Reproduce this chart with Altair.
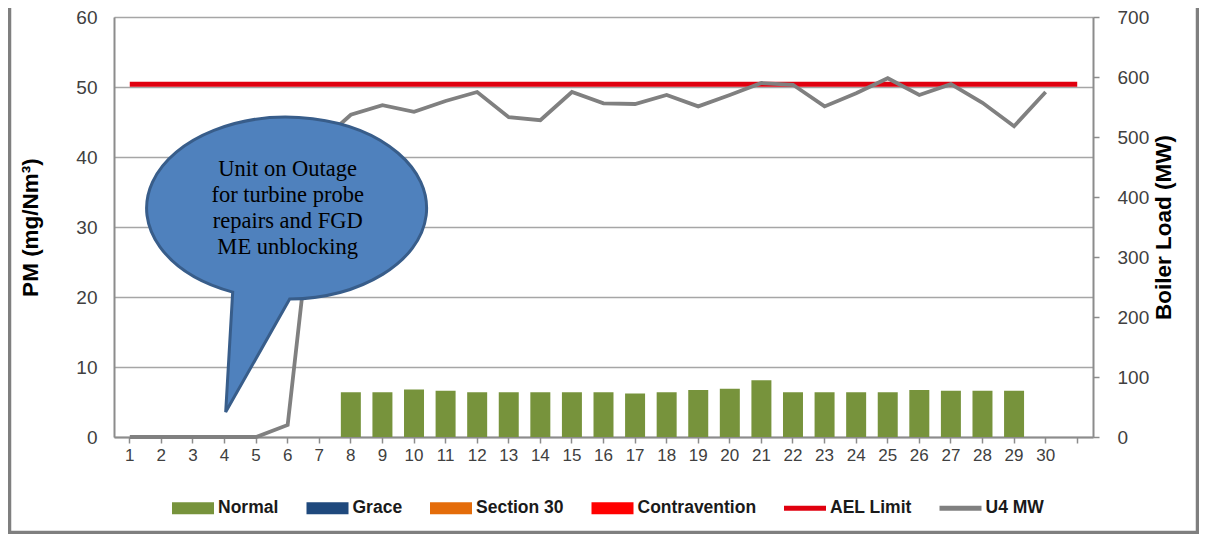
import altair as alt
import pandas as pd

# ---------------- data ----------------
days = list(range(1, 32))            # 31 category slots, last one is blank
day_labels_max = 30

pm_days = list(range(8, 30))
pm_values = [6.4, 6.4, 6.8, 6.6, 6.4, 6.4, 6.4, 6.4, 6.4, 6.2, 6.4,
             6.7, 6.9, 8.1, 6.4, 6.4, 6.4, 6.4, 6.7, 6.6, 6.6, 6.6]

mw_days = list(range(1, 31))
mw_values = [0, 0, 0, 0, 0, 20, 490, 537, 553, 542, 560, 575, 533, 528, 575,
             556, 555, 570, 551, 570, 590, 587, 551, 573, 598, 570, 588, 557, 518, 575]

ael_days = list(range(1, 32))
ael_value = 50.4

legend_names = ["Normal", "Grace", "Section 30", "Contravention", "AEL Limit", "U4 MW"]
legend_colors = ["#77933C", "#1F497D", "#E46C0A", "#FF0000", "#E0000F", "#808080"]

annot_day = 6
annot_pm = 32.7
annot_text = "Unit on Outage\nfor turbine probe\nrepairs and FGD\nME unblocking"

# ---------------- frames ----------------
bars_df = pd.DataFrame({"day": pm_days, "pm": pm_values})
mw_df = pd.DataFrame({"day": mw_days, "mw": mw_values})
ael_df = pd.DataFrame({"day": ael_days, "ael": [ael_value] * len(ael_days)})
annot_df = pd.DataFrame({"day": [annot_day], "pm": [annot_pm], "txt": [annot_text]})
legend_df = pd.DataFrame({"day": [1] * len(legend_names), "series": legend_names,
                          "v": [None] * len(legend_names)})
frame_df = pd.DataFrame({"k": [0]})

SANS = "Liberation Sans, Arial, sans-serif"
GRID = "#A6A6A6"
TXT = "#404040"

xscale = alt.Scale(type="band", domain=days, paddingInner=0.367, paddingOuter=0.183)
xaxis = alt.Axis(title=None, labelExpr=f"datum.value <= {day_labels_max} ? datum.label : ''",
                 labelAngle=0, labelFont=SANS, labelFontSize=17, labelColor=TXT,
                 domainColor="#8C8C8C", domainWidth=2, tickColor="#8C8C8C", tickWidth=1.5,
                 tickSize=6, labelPadding=4, grid=False)
X = alt.X("day:O", scale=xscale, axis=xaxis)

pm_scale = alt.Scale(domain=[0, 60], nice=False)

bars = alt.Chart(bars_df).mark_bar(color="#77933C").encode(
    x=X,
    y=alt.Y("pm:Q", scale=pm_scale,
            axis=alt.Axis(title="PM (mg/Nm³)", values=[0, 10, 20, 30, 40, 50, 60],
                          grid=True, gridColor=GRID, gridWidth=1.5,
                          ticks=False, tickSize=0, labelPadding=17,
                          labelFont=SANS, labelFontSize=19, labelColor=TXT,
                          domainColor="#8C8C8C", domainWidth=2,
                          titleFont=SANS, titleFontSize=22.5, titleFontWeight="bold",
                          titleColor="#000000", titleAngle=270, titleBaseline="middle",
                          titleX=-84, titleY=210)),
)

ael = alt.Chart(ael_df).mark_line(color="#E0000F", strokeWidth=5).encode(
    x=X,
    y=alt.Y("ael:Q", scale=pm_scale, axis=None),
)

mw = alt.Chart(mw_df).mark_line(color="#808080", strokeWidth=3.8).encode(
    x=X,
    y=alt.Y("mw:Q", scale=alt.Scale(domain=[0, 700], nice=False),
            axis=alt.Axis(orient="right", title="Boiler Load (MW)",
                          values=[0, 100, 200, 300, 400, 500, 600, 700], grid=False,
                          ticks=True, tickSize=6, tickColor="#8C8C8C", tickWidth=1.5,
                          labelPadding=18, labelFont=SANS, labelFontSize=19, labelColor=TXT,
                          domainColor="#8C8C8C", domainWidth=2,
                          titleFont=SANS, titleFontSize=22.5, titleFontWeight="bold",
                          titleColor="#000000", titleAngle=270, titleBaseline="middle",
                          titleX=70, titleY=210)),
)

bubble_path = "M2,91 A140,91 0 1 0 -55,84 L-62,204 Z"
bubble = alt.Chart(annot_df).mark_point(
    shape=bubble_path, size=4, filled=True, fill="#4F81BD", stroke="#385D8A",
    strokeWidth=3, opacity=1
).encode(
    x=X,
    y=alt.Y("pm:Q", scale=pm_scale, axis=None),
)

bubble_text = alt.Chart(annot_df).mark_text(
    font="Liberation Serif, Times New Roman, serif", fontSize=22.5, color="#000000",
    lineBreak="\n", lineHeight=26, align="center", baseline="middle", dy=-39
).encode(
    x=X,
    y=alt.Y("pm:Q", scale=pm_scale, axis=None),
    text="txt:N",
)

box = "M-1,-0.29H1V0.29H-1Z"
line = "M-1,-0.12H1V0.12H-1Z"
leg = alt.Legend(title=None, orient="none", legendX=58, legendY=470,
                 direction="horizontal", columns=6,
                 symbolSize=1764, symbolStrokeWidth=0,
                 labelFont=SANS, labelFontSize=17.5,
                 labelFontWeight="bold", labelColor="#1A1A1A",
                 labelOffset=4, columnPadding=27.5, padding=0)
legend_layer = alt.Chart(legend_df).mark_point(filled=True, opacity=1).encode(
    x=X,
    y=alt.Y("v:Q", scale=alt.Scale(domain=[0, 1]), axis=None),
    color=alt.Color("series:N", scale=alt.Scale(domain=legend_names, range=legend_colors),
                    legend=leg),
    shape=alt.Shape("series:N", scale=alt.Scale(domain=legend_names,
                                                 range=[box, box, box, box, line, line]),
                    legend=leg),
)

frame = alt.Chart(frame_df).mark_rect(filled=False, color="#7F7F7F", strokeWidth=3.5).encode(
    x=alt.value(-104.5), x2=alt.value(1083.5), y=alt.value(-30), y2=alt.value(515.5)
)

chart = alt.layer(frame, bars, ael, mw, bubble, bubble_text, legend_layer).resolve_scale(
    y="independent"
).properties(
    width=979, height=420,
    autosize=alt.AutoSizeParams(type="none"),
    padding={"left": 106, "top": 9, "right": 106, "bottom": 97},
).configure_view(stroke=None).configure(background="#FFFFFF")

chart.save("out.html", embed_options={"renderer": "svg", "actions": False})
